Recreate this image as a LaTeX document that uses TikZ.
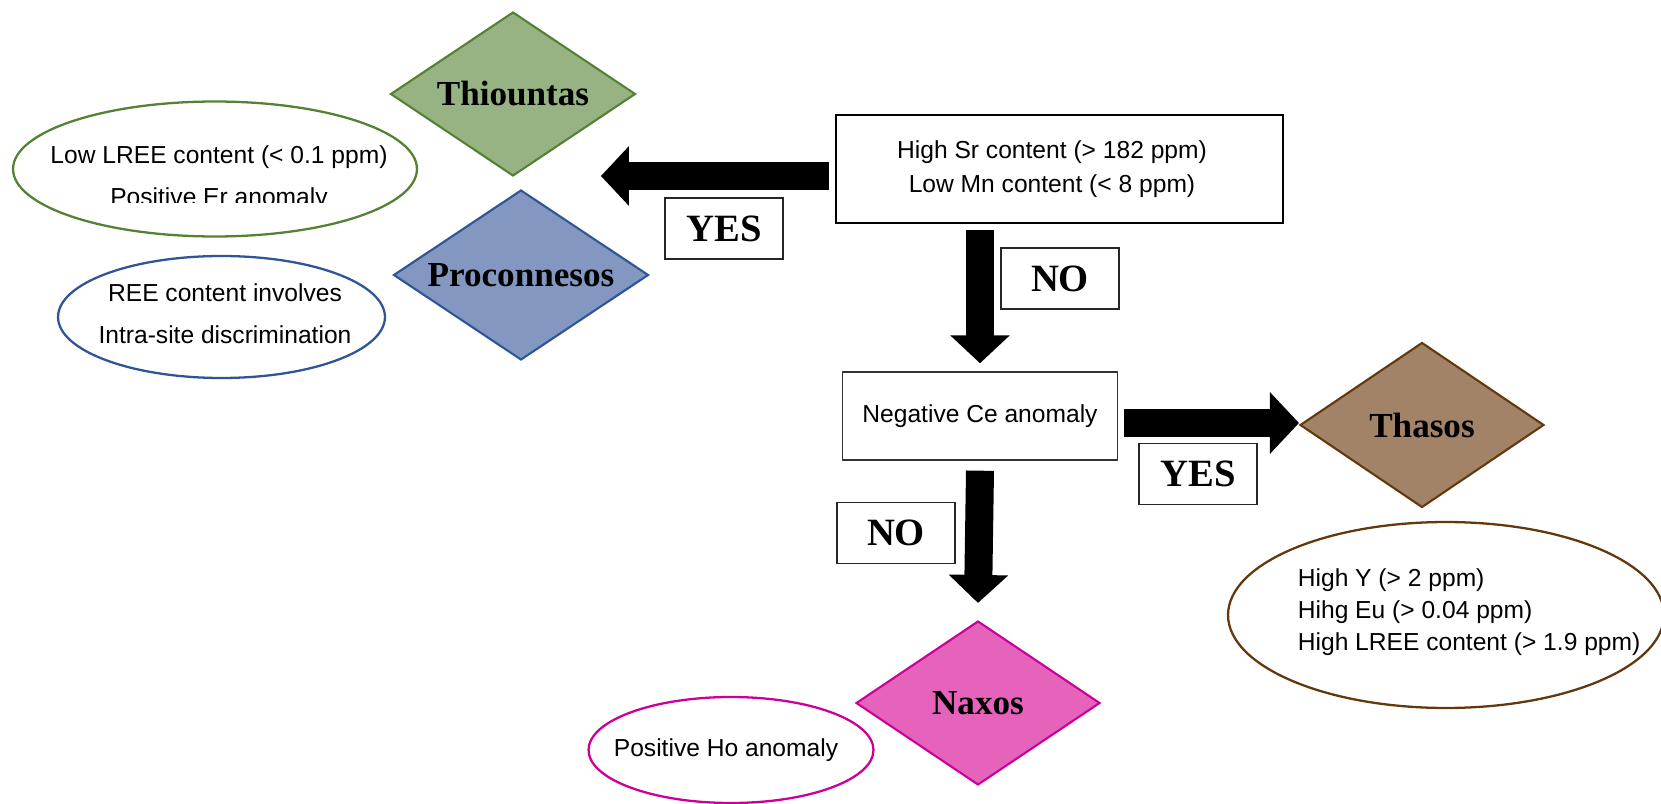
\documentclass[tikz,border=0pt]{standalone}
\usepackage{fontspec}
\setmainfont{Liberation Serif}
\newfontfamily\notefont{Liberation Sans}
\usetikzlibrary{arrows.meta,calc,shapes.geometric}

\definecolor{thioFill}{RGB}{151,179,131}
\definecolor{thioLine}{RGB}{84,130,53}
\definecolor{procFill}{RGB}{132,151,193}
\definecolor{procLine}{RGB}{47,85,151}
\definecolor{thasFill}{RGB}{163,131,104}
\definecolor{thasLine}{RGB}{99,56,12}
\definecolor{naxFill}{RGB}{229,99,187}
\definecolor{naxLine}{RGB}{204,0,153}

\begin{document}
\begin{tikzpicture}[x=0.02cm,y=-0.02cm,
  site/.style={diamond,shape aspect=1.5,draw=#1Line,fill=#1Fill,line width=1.2pt,inner sep=0pt,font=\bfseries\fontsize{20}{22}\selectfont},
  note/.style={ellipse,draw=#1,line width=1.3pt,inner sep=0pt},
  notetext/.style={font=\notefont\fontsize{14}{24}\selectfont,align=center,inner sep=0pt},
  test/.style={draw=black!80,line width=0.8pt,inner sep=0pt,font=\notefont\fontsize{14}{19.3}\selectfont,align=center},
  answer/.style={draw=black!85,line width=0.8pt,minimum width=2.36cm,minimum height=1.22cm,inner sep=0pt,font=\bfseries\fontsize{22}{24}\selectfont},
  block/.style={line width=0.56cm,-{Triangle[length=0.56cm,width=1.16cm]}}]
\useasboundingbox (0,0) rectangle (1661,804);

% decision boxes
\node[test,draw=black,line width=1.3pt,minimum width=8.94cm,minimum height=2.16cm] (q0) at (1059.5,169) {High Sr content (> 182 ppm)\hspace*{0.3cm}\\Low Mn content (< 8 ppm)\hspace*{0.3cm}};
\node[test,minimum width=5.49cm,minimum height=1.76cm] (q1) at (980,416) {Negative Ce anomaly};

% quarries
\node[site=thio,minimum width=4.9cm,minimum height=3.28cm] (s0) at (513,94) {Thiountas};
\node[site=proc,minimum width=5.1cm,minimum height=3.4cm] (s1) at (521,275) {Proconnesos};
\node[site=thas,minimum width=4.88cm,minimum height=3.3cm] (s2) at (1422,425) {Thasos};
\node[site=nax,minimum width=4.88cm,minimum height=3.28cm] (s3) at (978,703) {Naxos};

% geochemical notes
\node[note=thioLine,minimum width=8.08cm,minimum height=2.7cm] (n0) at (215,169) {};
\begin{scope}
\clip (0,0) rectangle (1661,203);
\node[notetext] (n0t) at (219,178) {Low LREE content (< 0.1 ppm)\\Positive Er anomaly};
\end{scope}
\node[note=procLine,minimum width=6.54cm,minimum height=2.44cm] (n1) at (221.5,317) {};
\node[notetext] (n1t) at (225,314) {REE content involves\\Intra-site discrimination};
\node[note=thasLine,minimum width=8.72cm,minimum height=3.72cm] (n2) at (1446,615) {};
\node[notetext,font=\notefont\fontsize{14}{18.1}\selectfont,align=left,anchor=west] (n2t) at (1297.5,612) {High Y (> 2 ppm)\\Hihg Eu (> 0.04 ppm)\\High LREE content (> 1.9 ppm)};
\node[note=naxLine,minimum width=5.7cm,minimum height=2.12cm] (n3) at (731,750) {};
\node[notetext] (n3t) at (726,750) {Positive Ho anomaly};

% answers
\node[answer] (a0) at (724,228.5) {YES};
\node[answer] (a1) at (1060,278.5) {NO};
\node[answer] (a2) at (1198,474) {YES};
\node[answer] (a3) at (896,533) {NO};

% block arrows
\coordinate (q0out) at ($(q0.west)+(-6,7)$);
\draw[block] (q0out) -- ($(q0out)+(-228,0)$);
\draw[block] ($(q0.south -| q1.north)+(0,6)$) -- ($(q1.north)+(0,-8)$);
\coordinate (q1out) at ($(q1.east)+(6,7)$);
\draw[block,-{Triangle[length=0.58cm,width=1.2cm]}] (q1out) -- (q1out -| s2.west);
\draw[block] ($(q1.south)+(0,10)$) -- ($(s3.north)+(0,-17)$);
\end{tikzpicture}
\end{document}
